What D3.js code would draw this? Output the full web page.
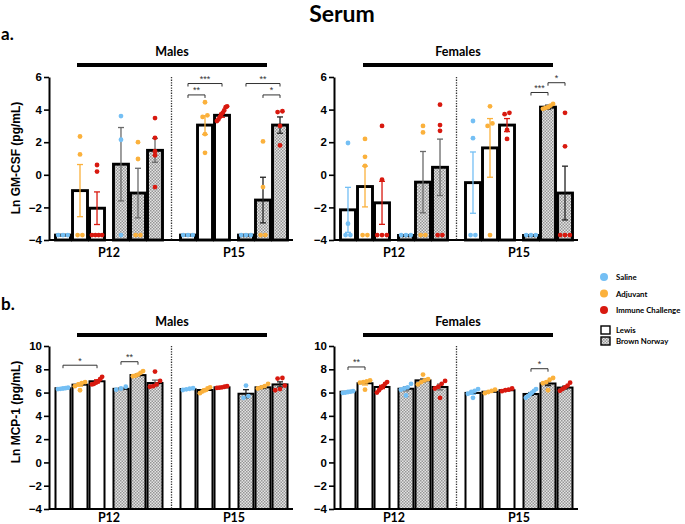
<!DOCTYPE html>
<html>
<head>
<meta charset="utf-8">
<script src="https://cdn.jsdelivr.net/npm/d3@7"></script>
<style>
body { margin: 0; background: #fff; }
svg { display: block; }
text { font-family: "Liberation Sans", Arial, sans-serif; font-weight: bold; }
.hd { font-family: Lato, "Open Sans", sans-serif; }
</style>
</head>
<body>
<div id="chart"></div>
<script>
// categories
var periods = ["P12", "P15"];
var strains = ["Lewis", "Brown Norway"];
var treatments = ["Saline", "Adjuvant", "Immune Challenge"];
var tColors = ["#74bff4", "#fbb13c", "#d8190f"];

// bar order: P12 Lewis (S,A,I), P12 BN (S,A,I), P15 Lewis (S,A,I), P15 BN (S,A,I)
// GM-CSF, males
var gmMaleMean = [-3.7, -0.97, -2.05, 0.65, -1.12, 1.5, -3.7, 3.05, 3.65, -3.7, -1.55, 3.05];
var gmMaleSem = [0, 1.6, 1.0, 2.25, 1.52, 0.73, 0, 0.58, 0.12, 0, 1.4, 0.5];
var gmMalePts = [
    [-3.7, -3.7, -3.7], [2.35, 1.25, -3.7, -3.7], [0.6, 0.2, -3.7, -3.7, -3.7, -3.7],
    [3.6, 2.15, -3.7], [2.0, 0.97, -3.7, -3.7], [3.48, 2.27, 1.45, 1.2, -0.75],
    [-3.7, -3.7, -3.7], [4.45, 3.65, 3.55, 2.5, 1.35], [4.2, 4.15, 3.95, 3.8, 3.7, 3.55, 3.4, 3.3],
    [-3.7, -3.7, -3.7], [2.05, -0.75, -3.7, -3.7], [3.9, 3.85, 3.0, 1.8]
];
// GM-CSF, females
var gmFemMean = [-2.15, -0.72, -1.72, -3.72, -0.45, 0.46, -0.48, 1.65, 3.05, -3.72, 4.15, -1.12];
var gmFemSem = [1.38, 1.25, 1.32, 0, 1.88, 1.73, 1.88, 1.8, 0.4, 0, 0.12, 1.65];
var gmFemPts = [
    [1.95, -3.0, -3.7, -3.7], [2.2, 1.1, 0.55, -3.7, -3.7], [3.0, -0.3, -3.7, -3.7, -3.7],
    [-3.7, -3.7, -3.7], [3.0, 2.6, -3.7, -3.7], [4.3, 3.05, 2.7, -3.7, -3.7],
    [3.3, 2.25, -3.7, -3.7], [4.2, 3.15, 3.0, -3.7], [3.8, 3.72, 2.75, 2.2],
    [-3.7, -3.7, -3.7], [4.35, 4.25, 4.15, 4.1, 4.05], [3.8, 1.75, -3.7, -3.7, -3.7]
];
// MCP-1, males
var mcpMaleMean = [6.37, 6.68, 6.97, 6.32, 7.5, 6.82, 6.3, 6.22, 6.45, 5.9, 6.45, 6.7];
var mcpMaleSem = [0.04, 0.13, 0.13, 0.07, 0.1, 0.25, 0.04, 0.1, 0.04, 0.35, 0.1, 0.22];
var mcpMalePts = [
    [6.42, 6.38, 6.35, 6.32, 6.3], [6.9, 6.8, 6.7, 6.55, 6.2], [7.35, 7.15, 6.95, 6.85, 6.75, 6.7],
    [6.5, 6.35, 6.25], [7.85, 7.7, 7.55, 7.45, 7.4], [7.8, 7.0, 6.7, 6.55, 6.5],
    [6.38, 6.33, 6.28, 6.22], [6.45, 6.35, 6.2, 6.1, 5.95], [6.55, 6.5, 6.45, 6.42, 6.4],
    [6.6, 5.7, 5.55], [6.75, 6.55, 6.45, 6.35], [7.25, 7.2, 6.6, 6.3, 6.2]
];
// MCP-1, females
var mcpFemMean = [6.07, 6.8, 6.48, 6.33, 7.05, 6.48, 5.97, 6.07, 6.2, 5.88, 6.78, 6.43];
var mcpFemSem = [0.03, 0.15, 0.14, 0.18, 0.15, 0.25, 0.12, 0.06, 0.05, 0.12, 0.18, 0.12];
var mcpFemPts = [
    [6.12, 6.08, 6.05, 6.0, 5.97], [7.05, 6.95, 6.9, 6.85, 6.25], [6.9, 6.75, 6.55, 6.4, 6.2, 6.0],
    [6.75, 6.45, 6.35, 6.25, 5.75], [7.55, 7.15, 7.05, 6.9, 6.7], [7.0, 6.75, 6.5, 6.35, 5.55],
    [6.3, 6.15, 6.05, 5.9, 5.55], [6.25, 6.15, 6.05, 5.95], [6.35, 6.25, 6.2, 6.12],
    [6.3, 6.15, 6.0, 5.85, 5.7, 5.55], [7.25, 7.1, 6.9, 6.8, 6.2], [6.85, 6.6, 6.45, 6.3, 6.15]
];

// significance brackets: [from bar, to bar, label, height]
var gmMaleSig = [[6, 7, "**", 4.9], [6, 8, "***", 5.6], [9, 11, "**", 5.6], [10, 11, "*", 4.9]];
var gmFemSig = [[9, 10, "***", 5.05], [10, 11, "*", 5.65]];
var mcpMaleSig = [[0, 2, "*", 8.35], [3, 4, "**", 8.65]];
var mcpFemSig = [[0, 1, "**", 8.2], [9, 10, "*", 8.05]];

var gmTicks = [-4, -2, 0, 2, 4, 6];
var mcpTicks = [-4, -2, 0, 2, 4, 6, 8, 10];

const width = 685, height = 524;

var svg = d3.select("#chart").append("svg")
    .attr("width", width)
    .attr("height", height);

// checkered fill for Brown Norway
var pat = svg.append("defs").append("pattern")
    .attr("id", "checker")
    .attr("patternUnits", "userSpaceOnUse")
    .attr("width", 3).attr("height", 3);
pat.append("rect").attr("width", 3).attr("height", 3).attr("fill", "#e4e4e4");
pat.append("rect").attr("width", 1.5).attr("height", 1.5).attr("fill", "#969696");
pat.append("rect").attr("x", 1.5).attr("y", 1.5).attr("width", 1.5).attr("height", 1.5).attr("fill", "#969696");

// titles
svg.append("text").attr("class", "hd")
    .attr("x", 342).attr("y", 22)
    .attr("text-anchor", "middle")
    .style("font-size", "23px")
    .text("Serum");
svg.append("text").attr("class", "hd")
    .attr("x", 1).attr("y", 40)
    .style("font-size", "17px")
    .text("a.");
svg.append("text").attr("class", "hd")
    .attr("x", 1).attr("y", 310)
    .style("font-size", "17px")
    .text("b.");

// spread points sideways where they overlap (like a scatter dot plot)
function spreadPoints(vals, y, r, bw) {
    var order = vals.map((v, i) => i).sort((a, b) => vals[a] - vals[b]);
    var offs = new Array(vals.length).fill(0);
    var clusters = [], cur = [];
    order.forEach(function(i, k) {
        if (k > 0 && Math.abs(y(vals[i]) - y(vals[order[k - 1]])) > r * 1.6) {
            clusters.push(cur);
            cur = [];
        }
        cur.push(i);
    });
    if (cur.length) clusters.push(cur);
    clusters.forEach(function(c) {
        var n = c.length;
        if (n < 2) return;
        var gap = Math.min(r * 2, (bw - 2 * r) / (n - 1));
        c.forEach(function(i, j) { offs[i] = (j - (n - 1) / 2) * gap; });
    });
    return offs;
}

function drawPanel(o) {
    var g = svg.append("g");
    var y = o.y;
    var x0 = d3.scaleBand().domain(periods).range([o.left + 6.5, o.left + 238.5]).paddingInner(0.144);
    var x1 = d3.scaleBand().domain(strains).range([0, x0.bandwidth()]).paddingInner(0.155);
    var x2 = d3.scaleBand().domain(treatments).range([0, x1.bandwidth()]).paddingInner(0.12);
    var bw = x2.bandwidth();
    var bx = function(i) {
        return x0(periods[Math.floor(i / 6)]) + x1(strains[Math.floor(i / 3) % 2]) + x2(treatments[i % 3]);
    };
    var cx = function(i) { return bx(i) + bw / 2; };
    var base = y(y.domain()[0]);

    // header with thick line
    var mid = o.left + 123;
    g.append("text").attr("class", "hd")
        .attr("x", mid + o.hdShift).attr("y", o.hdY)
        .attr("text-anchor", "middle")
        .style("font-size", "12.5px")
        .text(o.title);
    g.append("line")
        .attr("x1", mid - 95 + o.hdShift).attr("x2", mid + 95 + o.hdShift)
        .attr("y1", o.hdY + 9).attr("y2", o.hdY + 9)
        .attr("stroke", "#000").attr("stroke-width", 4);

    // y axis
    var ax = g.append("g")
        .attr("transform", "translate(" + o.left + ",0)")
        .call(d3.axisLeft(y).tickValues(o.ticks).tickSize(5).tickSizeOuter(0).tickPadding(2));
    ax.select(".domain").attr("stroke-width", 2);
    ax.selectAll(".tick line").attr("stroke-width", 1.6);
    ax.selectAll(".tick text").style("font-size", "11.5px").attr("fill", "#000");

    // x axis line and period labels
    g.append("line")
        .attr("x1", o.left).attr("x2", o.left + 244)
        .attr("y1", base).attr("y2", base)
        .attr("stroke", "#000").attr("stroke-width", 2);
    var xa = g.append("g")
        .attr("transform", "translate(0," + base + ")")
        .call(d3.axisBottom(x0).tickSize(0).tickPadding(o.xPad));
    xa.select(".domain").remove();
    xa.selectAll(".tick text").attr("class", "hd").style("font-size", "12.5px").attr("fill", "#000");

    // dotted separator
    var sep = (x0("P12") + x0.bandwidth() + x0("P15")) / 2;
    g.append("line")
        .attr("x1", sep).attr("x2", sep)
        .attr("y1", y(o.ticks[o.ticks.length - 1])).attr("y2", base)
        .attr("stroke", "#333").attr("stroke-width", 1.3)
        .attr("stroke-dasharray", "1.3,1.3");

    var idx = d3.range(12);

    // bars
    g.selectAll(".bar").data(idx).enter().append("rect")
        .attr("x", bx)
        .attr("y", i => y(o.mean[i]))
        .attr("width", bw)
        .attr("height", i => base - y(o.mean[i]))
        .attr("fill", i => Math.floor(i / 3) % 2 ? "url(#checker)" : "#fff")
        .attr("stroke", "#000")
        .attr("stroke-width", o.barStroke);

    // error bars
    var errColor = function(i) {
        if (Math.floor(i / 3) % 2 == 0) return tColors[i % 3];
        return i < 6 ? "#6a6a6a" : "#222";
    };
    var eb = g.selectAll(".err").data(idx.filter(i => o.sem[i] > 0)).enter().append("g")
        .attr("stroke", errColor).attr("stroke-width", 1.3);
    eb.append("line")
        .attr("x1", cx).attr("x2", cx)
        .attr("y1", i => y(o.mean[i] + o.sem[i]))
        .attr("y2", i => y(o.mean[i] - o.sem[i]));
    [1, -1].forEach(function(s) {
        eb.append("line")
            .attr("x1", i => cx(i) - 3).attr("x2", i => cx(i) + 3)
            .attr("y1", i => y(o.mean[i] + s * o.sem[i]))
            .attr("y2", i => y(o.mean[i] + s * o.sem[i]));
    });

    // points
    idx.forEach(function(i) {
        var offs = spreadPoints(o.pts[i], y, o.r, bw);
        g.selectAll(null).data(o.pts[i]).enter().append("circle")
            .attr("cx", (d, k) => cx(i) + offs[k])
            .attr("cy", d => y(d))
            .attr("r", o.r)
            .attr("fill", tColors[i % 3]);
    });

    // significance brackets
    o.sig.forEach(function(s) {
        var yb = y(s[3]);
        g.append("path")
            .attr("d", "M" + cx(s[0]) + "," + (yb + 3) + "V" + yb + "H" + cx(s[1]) + "V" + (yb + 3))
            .attr("fill", "none").attr("stroke", "#333").attr("stroke-width", 1);
        g.append("text")
            .attr("x", (cx(s[0]) + cx(s[1])) / 2).attr("y", yb - 1.5)
            .attr("text-anchor", "middle")
            .style("font-size", "9px").style("font-weight", "normal")
            .attr("fill", "#333")
            .text(s[2]);
    });
}

var yGm = d3.scaleLinear().domain([-4, 6]).range([240, 77]);
var yMcp = d3.scaleLinear().domain([-4, 10]).range([509, 346]);

drawPanel({left: 49, y: yGm, ticks: gmTicks, mean: gmMaleMean, sem: gmMaleSem, pts: gmMalePts,
    sig: gmMaleSig, title: "Males", hdY: 56, hdShift: 0, xPad: 8, barStroke: 2.9, r: 2.4});
drawPanel({left: 334, y: yGm, ticks: gmTicks, mean: gmFemMean, sem: gmFemSem, pts: gmFemPts,
    sig: gmFemSig, title: "Females", hdY: 56, hdShift: 1, xPad: 8, barStroke: 2.9, r: 2.4});
drawPanel({left: 49, y: yMcp, ticks: mcpTicks, mean: mcpMaleMean, sem: mcpMaleSem, pts: mcpMalePts,
    sig: mcpMaleSig, title: "Males", hdY: 326, hdShift: 0, xPad: 4, barStroke: 2, r: 2.4});
drawPanel({left: 334, y: yMcp, ticks: mcpTicks, mean: mcpFemMean, sem: mcpFemSem, pts: mcpFemPts,
    sig: mcpFemSig, title: "Females", hdY: 326, hdShift: 1, xPad: 4, barStroke: 2, r: 2.4});

// y axis titles
svg.append("text")
    .attr("transform", "translate(20,158) rotate(-90)")
    .attr("text-anchor", "middle")
    .style("font-size", "12px")
    .text("Ln GM-CSF (pg/mL)");
svg.append("text")
    .attr("transform", "translate(20,412) rotate(-90)")
    .attr("text-anchor", "middle")
    .style("font-size", "12px")
    .text("Ln MCP-1 (pg/mL)");

// legend
var leg = svg.append("g");
treatments.forEach(function(t, i) {
    leg.append("circle").attr("cx", 604).attr("cy", 277 + i * 16.5).attr("r", 4).attr("fill", tColors[i]);
    leg.append("text").attr("class", "hd")
        .attr("x", 616).attr("y", 280 + i * 16.5)
        .style("font-size", "7.8px")
        .text(t);
});
strains.forEach(function(s, i) {
    leg.append("rect")
        .attr("x", 601).attr("y", 326 + i * 11).attr("width", 9).attr("height", 8)
        .attr("fill", i ? "url(#checker)" : "#fff")
        .attr("stroke", "#000").attr("stroke-width", 1.4);
    leg.append("text").attr("class", "hd")
        .attr("x", 616).attr("y", 333 + i * 11)
        .style("font-size", "7.8px")
        .text(s);
});
</script>
</body>
</html>
